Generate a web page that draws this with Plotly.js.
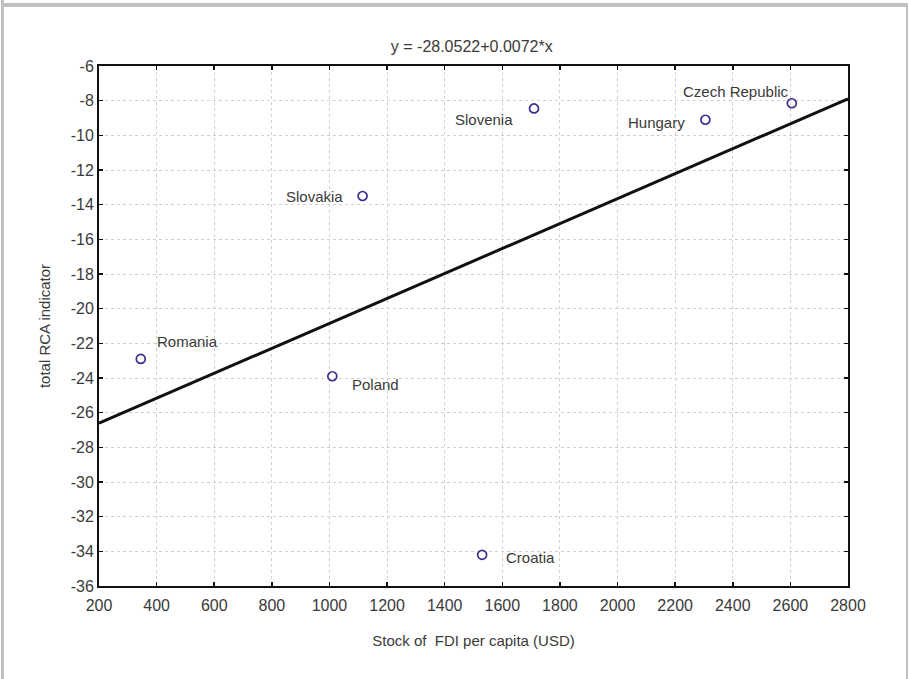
<!DOCTYPE html>
<html>
<head>
<meta charset="utf-8">
<script src="https://cdn.plot.ly/plotly-3.0.1.min.js"></script>
<style>
  html, body { margin: 0; padding: 0; background: #fff; }
  #wrap { position: relative; width: 909px; height: 679px; overflow: hidden; }
  #chart { position: absolute; left: 0; top: 0; width: 909px; height: 679px; }
  .fr { position: absolute; background: #c0c0c0; }
</style>
</head>
<body>
<div id="wrap">
  <div id="chart"></div>
  <div class="fr" style="left:1px; top:0; width:3px; height:679px;"></div>
  <div class="fr" style="left:1px; top:3px; width:907px; height:4px;"></div>
  <div class="fr" style="left:906px; top:3px; width:2px; height:676px;"></div>
</div>
<script>
  // Data
  var countries = ["Czech Republic", "Hungary", "Slovenia", "Slovakia", "Romania", "Poland", "Croatia"];
  var fdiPerCapita = [2605, 2305, 1710, 1115, 345, 1010, 1530];
  var rcaIndicator = [-8.15, -9.1, -8.45, -13.5, -22.9, -23.9, -34.2];
  var fitX = [200, 2800];
  var fitY = [-26.61, -7.89];
  var xTicks = [200, 400, 600, 800, 1000, 1200, 1400, 1600, 1800, 2000, 2200, 2400, 2600, 2800];
  var yTicks = [-36, -34, -32, -30, -28, -26, -24, -22, -20, -18, -16, -14, -12, -10, -8, -6];

  // Label placement (style only)
  var labelStyle = [
    { xanchor: "right", xshift: -1,  yshift: 12 },
    { xanchor: "right", xshift: -18, yshift: -3 },
    { xanchor: "right", xshift: -19, yshift: -11 },
    { xanchor: "right", xshift: -18, yshift: 0 },
    { xanchor: "left",  xshift: 14,  yshift: 17 },
    { xanchor: "left",  xshift: 18,  yshift: -8 },
    { xanchor: "left",  xshift: 22,  yshift: -3 }
  ];

  var font = "Liberation Sans, Arial, sans-serif";
  var txtColor = "#3a3a3a";

  var traces = [
    {
      x: fitX, y: fitY, type: "scatter", mode: "lines",
      line: { color: "#111111", width: 3 }, hoverinfo: "skip", showlegend: false
    },
    {
      x: fdiPerCapita, y: rcaIndicator, type: "scatter", mode: "markers",
      marker: { symbol: "circle-open", size: 9, color: "#3b2d8f", line: { width: 1.7, color: "#3b2d8f" } },
      showlegend: false
    }
  ];

  var annotations = countries.map(function (c, i) {
    return {
      x: fdiPerCapita[i], y: rcaIndicator[i], xref: "x", yref: "y",
      text: c, showarrow: false,
      xanchor: labelStyle[i].xanchor, yanchor: "middle",
      xshift: labelStyle[i].xshift, yshift: labelStyle[i].yshift,
      font: { family: font, size: 15, color: txtColor }
    };
  });

  var axisCommon = {
    showline: true, linecolor: "#111111", linewidth: 2, mirror: "ticks",
    ticks: "inside", ticklen: 4, tickwidth: 1.5, tickcolor: "#111111",
    showgrid: true, gridcolor: "#d0d0d0", griddash: "dot", gridwidth: 1,
    zeroline: false,
    tickfont: { family: font, size: 16, color: txtColor }
  };

  var layout = {
    width: 909, height: 679,
    margin: { l: 99, r: 61, t: 66, b: 93 },
    paper_bgcolor: "#ffffff", plot_bgcolor: "#ffffff",
    annotations: annotations,
    title: {
      text: "y = -28.0522+0.0072*x",
      font: { family: font, size: 16, color: txtColor },
      x: 0.519, xanchor: "center", y: 0.932, yanchor: "middle"
    },
    xaxis: Object.assign({}, axisCommon, {
      range: [200, 2800], tickmode: "array", tickvals: xTicks,
      ticktext: xTicks.map(String), ticklabelstandoff: 4,
      title: { text: "Stock of&nbsp; FDI per capita (USD)", font: { family: font, size: 15, color: txtColor }, standoff: 22 }
    }),
    yaxis: Object.assign({}, axisCommon, {
      range: [-36, -6], tickmode: "array", tickvals: yTicks,
      ticktext: yTicks.map(String),
      title: { text: "total RCA indicator", font: { family: font, size: 15, color: txtColor }, standoff: 16 }
    })
  };

  Plotly.newPlot("chart", traces, layout, { displayModeBar: false, staticPlot: true });
</script>
</body>
</html>
